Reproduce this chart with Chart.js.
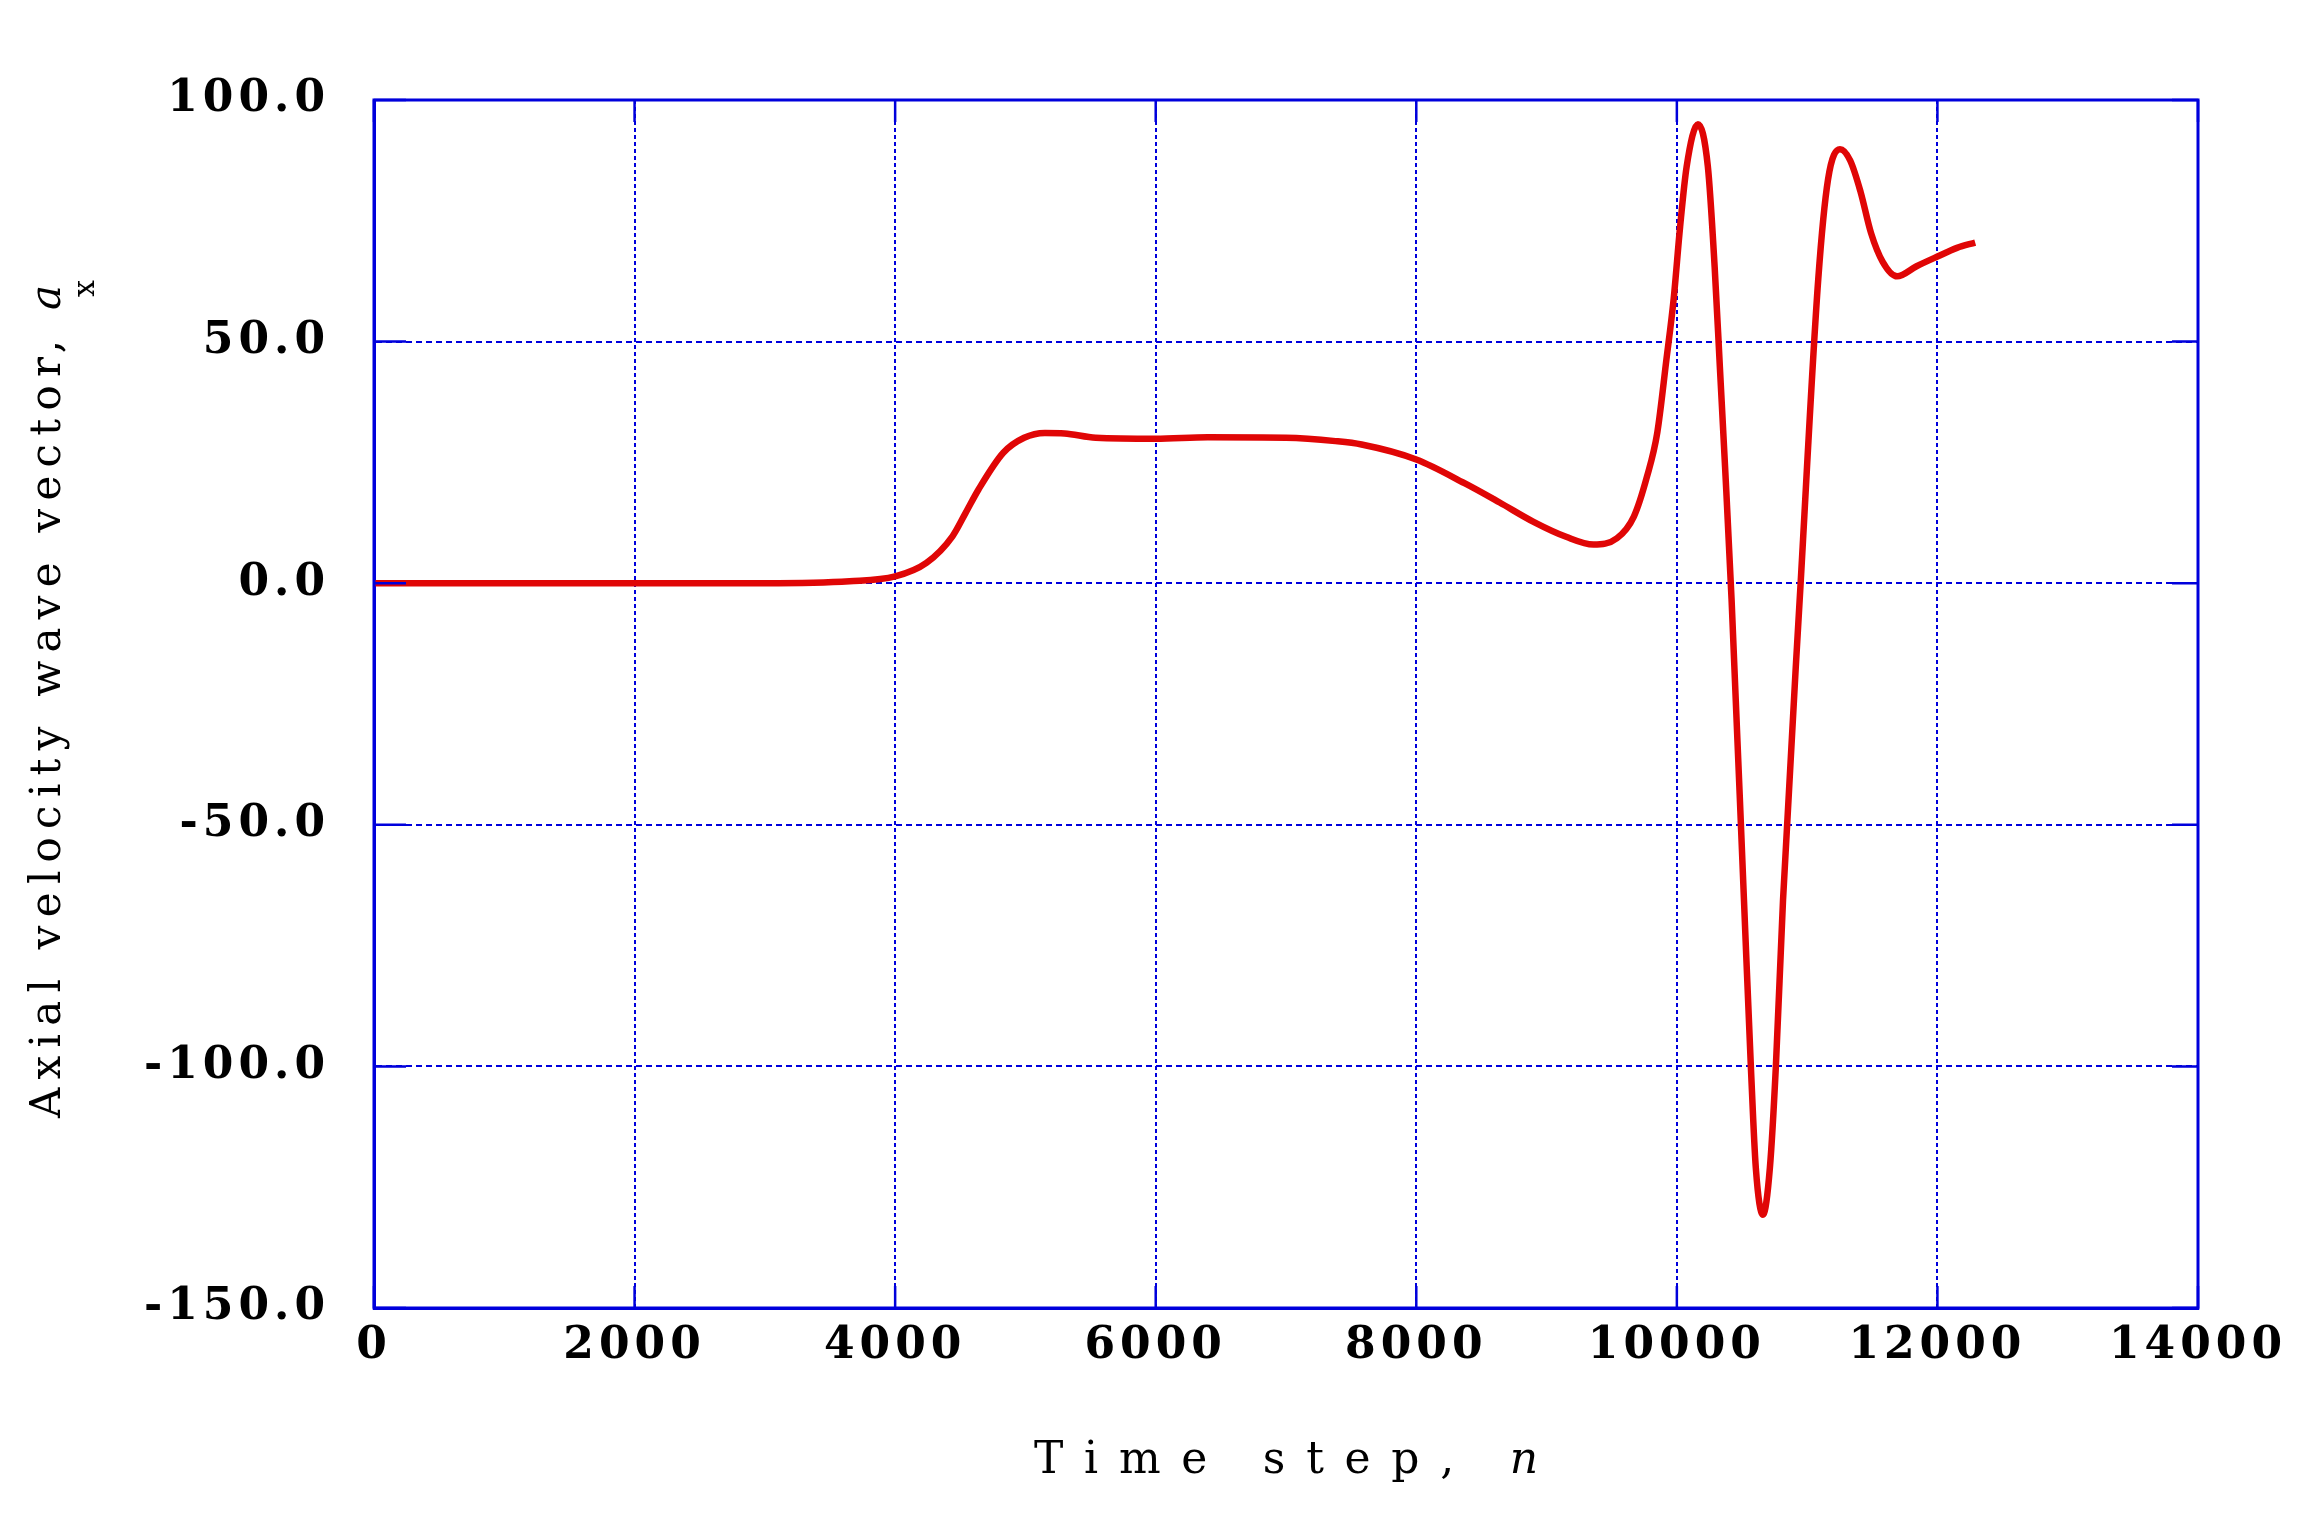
<!DOCTYPE html>
<html>
<head>
<meta charset="utf-8">
<script src="https://cdn.jsdelivr.net/npm/chart.js@4.4.1/dist/chart.umd.min.js"></script>
<style>
  html, body { margin: 0; padding: 0; background: #fff; }
  canvas { display: block; }
</style>
</head>
<body>
<canvas id="graphe" width="2318" height="1525"></canvas>
<script>
// pas de temps n
const pas = [0, 1000, 2000, 3000, 3650, 4000, 4240, 4440, 4540, 4640, 4830, 4990, 5150, 5300, 5540,
  6000, 6400, 7000, 7380, 7580, 8000, 8370, 8640, 8900, 9150, 9360, 9540, 9670, 9770, 9850,
  9920, 9975, 10025, 10075, 10162, 10238, 10290, 10330, 10370, 10420, 10515, 10568, 10606,
  10661, 10714, 10760, 10815, 10950, 11085, 11160, 11252, 11330, 11410, 11490, 11580, 11690,
  11840, 12000, 12150, 12290];
// composante axiale a_x
const ax = [0, 0, 0, 0, 0.4, 1.4, 4.2, 9.7, 14.5, 19.4, 27, 30.1, 31.1, 31, 30.1,
  29.9, 30.2, 30.1, 29.4, 28.7, 25.6, 20.7, 16.7, 12.7, 9.6, 8.0, 9.3, 13.8, 22, 31.2,
  46.3, 58.7, 73.8, 86.2, 95, 86.2, 65.5, 44.8, 24.1, -3.4, -65.5, -100, -121,
  -130.7, -121, -100, -65.5, 0, 62.8, 83.5, 89.8, 87.5, 81, 72.5, 66.5, 63.5,
  65.6, 67.6, 69.4, 70.5];

const ticksX = [0, 2000, 4000, 6000, 8000, 10000, 12000, 14000];
const ticksY = [-150, -100, -50, 0, 50, 100];

const titreX = "Time step, ";
const titreXVar = "n";
const titreY = "Axial velocity wave vector, ";
const titreYVar = "a";
const titreYIndice = "x";

const bleu = "#0000dc";
const rouge = "#e00606";
const policeTicks = { family: "'DejaVu Serif', serif", size: 44, weight: "bold" };
const policeTitre = "'DejaVu Serif', serif";

// espacement des chiffres des graduations
const espacement = {
  id: "espacement",
  beforeDraw(chart) { chart.ctx.letterSpacing = "5px"; },
  afterDraw(chart) { chart.ctx.letterSpacing = "0px"; }
};

// cadre + petites graduations internes
const cadre = {
  id: "cadre",
  afterDatasetsDraw(chart) {
    const { ctx, chartArea: a, scales } = chart;
    ctx.save();
    ctx.strokeStyle = bleu;
    ctx.setLineDash([]);
    ctx.lineWidth = 2.5;
    ticksX.forEach(v => {
      const px = scales.x.getPixelForValue(v);
      ctx.beginPath();
      ctx.moveTo(px, a.bottom); ctx.lineTo(px, a.bottom - 22);
      ctx.moveTo(px, a.top); ctx.lineTo(px, a.top + 22);
      ctx.stroke();
    });
    ticksY.forEach(v => {
      const py = scales.y.getPixelForValue(v);
      ctx.beginPath();
      ctx.moveTo(a.left, py); ctx.lineTo(a.left + 32, py);
      ctx.moveTo(a.right, py); ctx.lineTo(a.right - 26, py);
      ctx.stroke();
    });
    ctx.lineWidth = 3;
    ctx.strokeRect(a.left, a.top, a.right - a.left, a.bottom - a.top);
    ctx.restore();
  }
};

// titres des axes (texte mixte : italique + indice)
const titres = {
  id: "titres",
  afterDraw(chart) {
    const { ctx, chartArea: a } = chart;
    ctx.save();
    ctx.fillStyle = "#000";
    ctx.textBaseline = "alphabetic";
    ctx.textAlign = "left";

    // titre X : largeur visée ~504 px
    ctx.letterSpacing = "0px";
    ctx.font = "44px " + policeTitre;
    let n1 = ctx.measureText(titreX).width;
    ctx.font = "italic 44px " + policeTitre;
    let n2 = ctx.measureText(titreXVar).width;
    const sx = (504 - n1 - n2) / (titreX.length);
    ctx.letterSpacing = sx + "px";
    ctx.font = "44px " + policeTitre;
    const w1 = ctx.measureText(titreX).width;
    const x0 = (a.left + a.right) / 2 - 252;
    ctx.fillText(titreX, x0, 1473);
    ctx.font = "italic 44px " + policeTitre;
    ctx.fillText(titreXVar, x0 + w1, 1473);

    // titre Y : longueur visée ~833 px
    ctx.letterSpacing = "0px";
    ctx.font = "42px " + policeTitre;
    n1 = ctx.measureText(titreY).width;
    ctx.font = "italic 42px " + policeTitre;
    n2 = ctx.measureText(titreYVar).width;
    const sy = (833 - n1 - n2) / (titreY.length);
    ctx.translate(60, 1118);
    ctx.rotate(-Math.PI / 2);
    ctx.letterSpacing = sy + "px";
    ctx.font = "42px " + policeTitre;
    const wy = ctx.measureText(titreY).width;
    ctx.fillText(titreY, 0, 0);
    ctx.letterSpacing = "0px";
    ctx.font = "italic 42px " + policeTitre;
    const wa = ctx.measureText(titreYVar).width;
    ctx.fillText(titreYVar, wy, 0);
    ctx.font = "30px " + policeTitre;
    ctx.fillText(titreYIndice, wy + wa - 12, 34);
    ctx.restore();
  }
};

const graphe = document.getElementById("graphe").getContext("2d");
new Chart(graphe, {
  type: "line",
  data: {
    datasets: [{
      data: pas.map((p, i) => ({ x: p, y: ax[i] })),
      borderColor: rouge,
      borderWidth: 6.5,
      pointRadius: 0,
      fill: false,
      cubicInterpolationMode: "monotone"
    }]
  },
  options: {
    responsive: false,
    animation: false,
    events: [],
    layout: { padding: { left: 0, top: 100, right: 120, bottom: 0 } },
    plugins: { legend: { display: false }, tooltip: { enabled: false } },
    scales: {
      x: {
        type: "linear",
        min: 0,
        max: 14000,
        afterBuildTicks: s => { s.ticks = ticksX.map(v => ({ value: v })); },
        afterFit: s => { s.height = 217; },
        ticks: {
          font: policeTicks,
          color: "#000",
          padding: 12,
          autoSkip: false,
          maxRotation: 0,
          callback: v => String(v)
        },
        grid: { color: bleu, lineWidth: 2, drawTicks: false },
        border: { display: true, color: bleu, width: 3, dash: [4, 3] }
      },
      y: {
        type: "linear",
        min: -150,
        max: 100,
        afterBuildTicks: s => { s.ticks = ticksY.map(v => ({ value: v })); },
        afterFit: s => { s.width = 374; },
        ticks: {
          font: policeTicks,
          color: "#000",
          padding: 44,
          callback: v => v.toFixed(1)
        },
        grid: { color: bleu, lineWidth: 2, drawTicks: false },
        border: { display: true, color: bleu, width: 3, dash: [6, 4] }
      }
    }
  },
  plugins: [espacement, cadre, titres]
});
</script>
</body>
</html>
